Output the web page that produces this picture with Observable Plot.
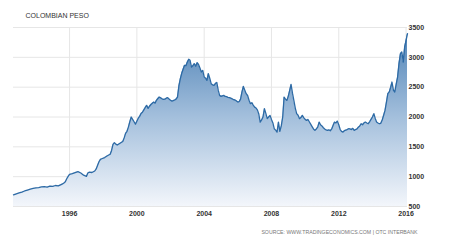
<!DOCTYPE html>
<html>
<head>
<meta charset="utf-8">
<script src="https://cdn.jsdelivr.net/npm/d3@7"></script>
<script src="https://cdn.jsdelivr.net/npm/@observablehq/plot@0.6"></script>
<style>
  html, body { margin: 0; padding: 0; background: #fff; }
  #chart { width: 455px; height: 245px; }
</style>
</head>
<body>
<div id="chart"></div>
<script>
const title = "COLOMBIAN PESO";
const source = "SOURCE: WWW.TRADINGECONOMICS.COM | OTC INTERBANK";
const xTickYears = [1996, 2000, 2004, 2008, 2012, 2016];
const yTicks = [500, 1000, 1500, 2000, 2500, 3000, 3500];

const dates = [
"1992-09","1992-11","1993-01","1993-03","1993-05","1993-07","1993-09","1993-11",
"1994-01","1994-03","1994-05","1994-07","1994-09","1994-11",
"1995-01","1995-03","1995-05","1995-07","1995-08","1995-09","1995-10","1995-11","1995-12",
"1996-01","1996-03","1996-05","1996-07","1996-09","1996-11",
"1997-01","1997-02","1997-03","1997-05","1997-07","1997-08","1997-09","1997-10","1997-11","1997-12",
"1998-02","1998-04","1998-06","1998-07","1998-08","1998-09","1998-10","1998-11",
"1999-01","1999-03","1999-04","1999-05","1999-06","1999-07","1999-08","1999-09","1999-10","1999-11","1999-12",
"2000-01","2000-02","2000-03","2000-04","2000-05","2000-06","2000-07","2000-08","2000-09","2000-10","2000-11","2000-12",
"2001-01","2001-02","2001-03","2001-04","2001-05","2001-06","2001-07","2001-08","2001-09","2001-10","2001-11","2001-12",
"2002-01","2002-02","2002-03","2002-04","2002-05","2002-06","2002-07","2002-08","2002-09","2002-10","2002-11","2002-12",
"2003-01","2003-02","2003-03","2003-04","2003-05","2003-06","2003-07","2003-08","2003-09","2003-10","2003-11","2003-12",
"2004-01","2004-02","2004-03","2004-04","2004-05","2004-06","2004-07","2004-08","2004-09","2004-10","2004-11","2004-12",
"2005-01","2005-02","2005-03","2005-04","2005-05","2005-06","2005-07","2005-08","2005-09","2005-10","2005-11","2005-12",
"2006-01","2006-02","2006-03","2006-04","2006-05","2006-06","2006-07","2006-08","2006-09","2006-10","2006-11","2006-12",
"2007-01","2007-02","2007-03","2007-04","2007-05","2007-06","2007-07","2007-08","2007-09","2007-10","2007-11","2007-12",
"2008-01","2008-02","2008-03","2008-04","2008-05","2008-06","2008-07","2008-08","2008-09","2008-10","2008-11","2008-12",
"2009-01","2009-02","2009-03","2009-04","2009-05","2009-06","2009-07","2009-08","2009-09","2009-10","2009-11","2009-12",
"2010-01","2010-02","2010-03","2010-04","2010-05","2010-06","2010-07","2010-08","2010-09","2010-10","2010-11","2010-12",
"2011-01","2011-02","2011-03","2011-04","2011-05","2011-06","2011-07","2011-08","2011-09","2011-10","2011-11","2011-12",
"2012-01","2012-02","2012-03","2012-04","2012-05","2012-06","2012-07","2012-08","2012-09","2012-10","2012-11","2012-12",
"2013-01","2013-02","2013-03","2013-04","2013-05","2013-06","2013-07","2013-08","2013-09","2013-10","2013-11","2013-12",
"2014-01","2014-02","2014-03","2014-04","2014-05","2014-06","2014-07","2014-08","2014-09","2014-10","2014-11","2014-12",
"2015-01","2015-02","2015-03","2015-04","2015-05","2015-06","2015-07","2015-08","2015-09","2015-10","2015-11","2015-12",
"2016-01","2016-02"
];

const values = [
696,712,728,742,760,775,790,802,
812,818,828,832,826,842,
836,852,845,868,880,895,915,965,1005,
1040,1050,1068,1085,1062,1025,
1005,1060,1075,1070,1095,1130,1190,1250,1290,1300,
1320,1350,1375,1440,1540,1570,1545,1530,
1560,1590,1650,1725,1760,1830,1920,2000,1960,1920,1880,
1930,1980,2010,2060,2080,2120,2160,2195,2145,2180,2210,2230,
2250,2233,2280,2310,2334,2320,2305,2295,2300,2315,2324,2300,
2280,2267,2275,2285,2300,2334,2520,2640,2732,2800,2866,2860,
2921,2967,2950,2837,2860,2894,2850,2910,2880,2820,2754,2780,
2673,2650,2614,2727,2650,2558,2540,2530,2560,2580,2450,2362,
2346,2355,2362,2345,2340,2330,2324,2315,2305,2290,2285,2270,
2250,2260,2300,2420,2513,2450,2391,2360,2280,2223,2240,2200,
2166,2150,2120,2050,1915,1950,2000,2139,2060,1972,2000,2027,
1960,1900,1804,1780,1747,1915,1760,1850,2000,2334,2300,2278,
2350,2450,2547,2400,2278,2150,2056,2030,1972,1990,2027,1990,
1960,1943,1960,1920,1880,1840,1800,1775,1800,1830,1915,1870,
1850,1820,1800,1785,1775,1785,1770,1800,1860,1915,1900,1931,
1870,1790,1760,1747,1770,1780,1790,1804,1800,1790,1810,1775,
1790,1800,1830,1850,1887,1870,1900,1915,1900,1887,1920,1960,
2000,2056,1980,1915,1900,1887,1895,1950,2030,2111,2250,2391,
2420,2500,2586,2450,2419,2550,2670,2900,3062,3089,2921,3173,
3285,3397
];

const parse = d3.utcParse("%Y-%m");
const data = dates.map((d, i) => ({date: parse(d), value: values[i]}));
const xTicks = xTickYears.map(y => new Date(Date.UTC(y, 0, 1)));

const gradientDefs = () => {
  const defs = d3.create("svg:defs");
  const g = defs.append("linearGradient")
    .attr("id", "fillGrad")
    .attr("gradientUnits", "userSpaceOnUse")
    .attr("x1", 0).attr("x2", 0).attr("y1", 27).attr("y2", 206);
  g.append("stop").attr("offset", "0%").attr("stop-color", "#4a7fb4");
  g.append("stop").attr("offset", "50%").attr("stop-color", "#a3bfdc");
  g.append("stop").attr("offset", "100%").attr("stop-color", "#f3f6fb");
  return defs.node();
};

const chart = Plot.plot({
  width: 455,
  height: 245,
  marginTop: 27,
  marginBottom: 39,
  marginLeft: 13,
  marginRight: 48,
  style: {fontFamily: "'Liberation Sans', Arial, sans-serif", fontSize: "7px", color: "#222", background: "#fff"},
  x: {type: "utc", domain: [parse("1992-09"), parse("2016-02")], ticks: xTicks, tickFormat: d3.utcFormat("%Y"), label: null},
  y: {domain: [500, 3500], ticks: yTicks, label: null},
  marks: [
    gradientDefs,
    Plot.gridY(yTicks, {stroke: "#e6e6e6", strokeOpacity: 1}),
    Plot.gridX(xTicks, {stroke: "#e6e6e6", strokeOpacity: 1}),
    Plot.areaY(data, {x: "date", y1: 500, y2: "value", fill: "url(#fillGrad)"}),
    Plot.lineY(data, {x: "date", y: "value", stroke: "#2d6aa5", strokeWidth: 1.3}),
    Plot.axisY(yTicks, {anchor: "right", tickSize: 0, tickPadding: 1, label: null, tickFormat: d => String(d), fontWeight: "bold", fill: "#333"}),
    Plot.axisX(xTicks, {anchor: "bottom", tickSize: 0, tickPadding: 5, tickFormat: d3.utcFormat("%Y"), label: null, fontWeight: "bold", fill: "#333"}),
    Plot.text([title], {frameAnchor: "top-left", dx: 12, dy: -14, textAnchor: "start", fontSize: 7, fill: "#333"}),
    Plot.text([source], {frameAnchor: "bottom-right", dx: 10, dy: 27, textAnchor: "end", fontSize: 5.2, fill: "#777"})
  ]
});
document.getElementById("chart").appendChild(chart);
</script>
</body>
</html>
